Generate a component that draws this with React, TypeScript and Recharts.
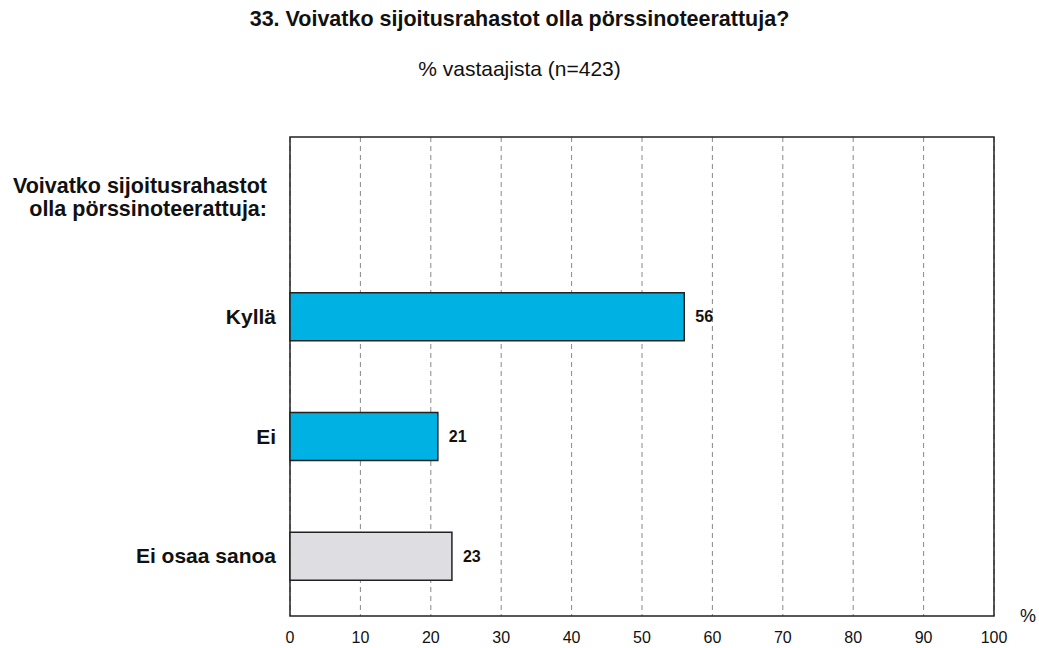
import React from 'react';
import { BarChart, Bar, XAxis, YAxis, CartesianGrid, LabelList, ReferenceArea, Cell } from 'recharts';

const titleText = '33. Voivatko sijoitusrahastot olla pörssinoteerattuja?';
const subtitleText = '% vastaajista (n=423)';
const categories = ['Voivatko sijoitusrahastot\nolla pörssinoteerattuja:', 'Kyllä', 'Ei', 'Ei osaa sanoa'];
const values: (number | null)[] = [null, 56, 21, 23];
const barColors = ['#00B2E3', '#00B2E3', '#00B2E3', '#DEDEE2'];
const xTicks = [0, 10, 20, 30, 40, 50, 60, 70, 80, 90, 100];
const unitLabel = '%';

const data = categories.map((name, i) => ({ name, value: values[i] }));

const FONT = '"Liberation Sans", Arial, sans-serif';

const CatTick = (props: any) => {
  const { x, y, payload } = props;
  const lines = String(payload.value).split('\n');
  if (lines.length > 1) {
    const lh = 23;
    const start = -((lines.length - 1) * lh) / 2;
    return (
      <text x={x - 9} y={y} textAnchor="end" fontFamily={FONT} fontSize={21.5} fontWeight="bold" fill="#111">
        {lines.map((l, i) => (
          <tspan key={i} x={x - 9} y={y + start + i * lh} dy="0.35em">{l}</tspan>
        ))}
      </text>
    );
  }
  return (
    <text x={x} y={y} dy="0.35em" textAnchor="end" fontFamily={FONT} fontSize={21} fontWeight="bold" fill="#111">
      {lines[0]}
    </text>
  );
};

const ValueLabel = (props: any) => {
  const { x, y, width, height, value } = props;
  if (value === null || value === undefined) return null;
  return (
    <text x={x + width + 11} y={y + height / 2} dy="0.35em" textAnchor="start" fontFamily={FONT} fontSize={16} fontWeight="bold" fill="#111">
      {value}
    </text>
  );
};

const UnitLabel = (props: any) => {
  const { viewBox } = props;
  const vb = viewBox || {};
  return (
    <text x={vb.x + vb.width + 34} y={vb.y} dy="0.35em" textAnchor="middle" fontFamily={FONT} fontSize={18} fill="#111">
      {unitLabel}
    </text>
  );
};

export default function App() {
  return (
    <div style={{ position: 'absolute', left: 0, top: 0, width: 1039, height: 648, background: '#fff' }}>
      <div style={{ position: 'absolute', left: 0, top: 9, width: 1039, textAlign: 'center', fontFamily: FONT, fontSize: 21.5, fontWeight: 'bold', color: '#111', lineHeight: '21.5px' }}>
        {titleText}
      </div>
      <div style={{ position: 'absolute', left: 0, top: 58, width: 1039, textAlign: 'center', fontFamily: FONT, fontSize: 21, color: '#111', lineHeight: '21px' }}>
        {subtitleText}
      </div>
      <div style={{ position: 'absolute', left: 0, top: 0 }}>
        <BarChart
          width={1039}
          height={648}
          data={data}
          layout="vertical"
          margin={{ top: 137, right: 45, bottom: 0, left: 0 }}
          barCategoryGap="30%"
        >
          <CartesianGrid horizontal={false} stroke="#888" strokeDasharray="5 4" />
          <XAxis
            type="number"
            domain={[0, 100]}
            ticks={xTicks}
            interval={0}
            height={32}
            axisLine={false}
            tickLine={false}
            tickSize={0}
            tickMargin={16}
            tick={{ fontFamily: FONT, fontSize: 16, fill: '#111' }}
            label={<UnitLabel />}
          />
          <YAxis
            type="category"
            dataKey="name"
            width={290}
            axisLine={false}
            tickLine={false}
            tickSize={0}
            tickMargin={14}
            interval={0}
            tick={<CatTick />}
          />
          <Bar dataKey="value" isAnimationActive={false} stroke="#222" strokeWidth={1.5}>
            {data.map((d, i) => (
              <Cell key={i} fill={barColors[i]} />
            ))}
            <LabelList dataKey="value" content={<ValueLabel />} />
          </Bar>
          <ReferenceArea x1={0} x2={100} fill="none" stroke="#222" strokeWidth={1.5} ifOverflow="visible" />
        </BarChart>
      </div>
    </div>
  );
}
